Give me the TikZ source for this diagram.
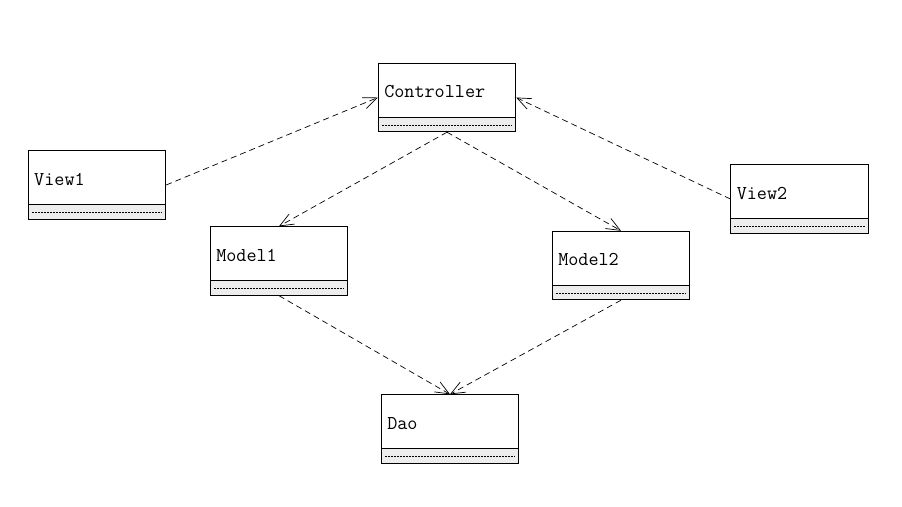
\documentclass[tikz,border=0pt]{standalone}
\usetikzlibrary{shapes.multipart,arrows.meta}
\newcommand{\classname}[1]{\rule[-19pt]{0pt}{53pt}#1}
\begin{document}
\begin{tikzpicture}[x=1pt,y=-1pt,
    umlclass/.style={draw,line width=0.8pt,rectangle split,rectangle split parts=2,
      rectangle split part fill={white,black!7},text width=125.5pt,
      inner xsep=6pt,inner ysep=0pt,
      rectangle split empty part height=14pt,rectangle split empty part depth=0pt,
      font=\ttfamily\fontsize{19.6}{19.6}\selectfont},
    dep/.style={dash pattern=on 6pt off 4pt,line width=0.7pt,
      -{Straight Barb[angle=45:15pt,line width=0.7pt]}},
    stub/.style={dash pattern=on 2pt off 1pt,line width=0.5pt}]
        \useasboundingbox (0,0) rectangle (902,506);
        \node[umlclass] (ctrl)   at (447,97.5)  {\classname{Controller}};
        \node[umlclass] (view1)  at (97,185)    {\classname{View1}};
        \node[umlclass] (view2)  at (799.5,199) {\classname{View2}};
        \node[umlclass] (model1) at (279,261)   {\classname{Model1}};
        \node[umlclass] (model2) at (621,265.5) {\classname{Model2}};
        \node[umlclass] (dao)    at (450,429)   {\classname{Dao}};
        % dotted rule in each lower compartment
        \foreach \c in {ctrl,view1,view2,model1,model2,dao}
            \draw[stub] ([xshift=4pt,yshift=7pt]\c.south west) -- ([xshift=-4pt,yshift=7pt]\c.south east);
        \draw[dep] (view1.east) -- (ctrl.west);
        \draw[dep] (view2.west) -- (ctrl.east);
        \draw[dep] (ctrl.south) -- (model1.north);
        \draw[dep] (ctrl.south) -- (model2.north);
        \draw[dep] (model1.south) -- (dao.north);
        \draw[dep] (model2.south) -- (dao.north);
    \end{tikzpicture}
\end{document}
